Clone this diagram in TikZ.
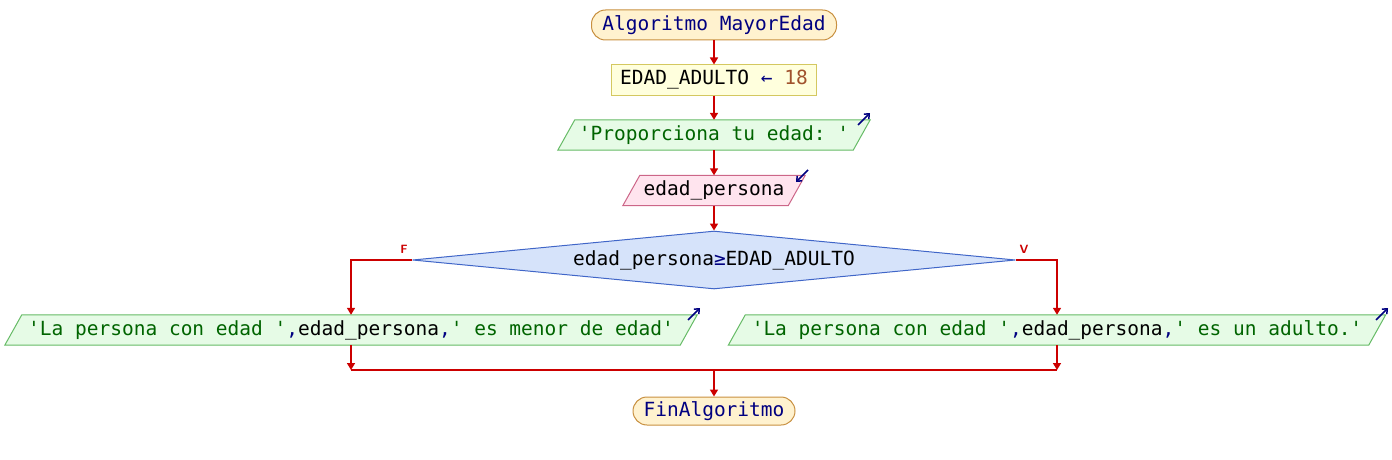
\documentclass[tikz,border=0pt]{standalone}
\usepackage{fontspec}
\setmonofont{DejaVu Sans Mono}
\usetikzlibrary{shapes.geometric,arrows.meta,backgrounds}
\definecolor{conn}{HTML}{CC0000}
\definecolor{navy}{HTML}{000080}
\definecolor{strg}{HTML}{006400}
\definecolor{numc}{HTML}{A0522D}
\definecolor{termfill}{HTML}{FFF2CF}
\definecolor{termdraw}{HTML}{C89040}
\definecolor{asgfill}{HTML}{FFFFDD}
\definecolor{asgdraw}{HTML}{D4C860}
\definecolor{outfill}{HTML}{E6FBE6}
\definecolor{outdraw}{HTML}{66BB66}
\definecolor{infill}{HTML}{FFE4EE}
\definecolor{indraw}{HTML}{CC6688}
\definecolor{decfill}{HTML}{D6E3FA}
\definecolor{decdraw}{HTML}{4066C8}
\tikzset{
  txt/.style={font=\ttfamily\fontsize{19.5}{23}\selectfont, inner sep=0pt, minimum height=30pt},
  term/.style={txt, draw=termdraw, fill=termfill, rounded corners=14pt, line width=1pt},
  assign/.style={txt, draw=asgdraw, fill=asgfill, line width=1pt},
  iobox/.style={txt},
  outpar/.style={draw=outdraw, fill=outfill, line width=1pt},
  inpar/.style={draw=indraw, fill=infill, line width=1pt},
  decision/.style={txt, shape=diamond, draw=decdraw, fill=decfill, line width=1pt, aspect=10},
  conn/.style={draw=conn, line width=1.6pt, -{Triangle[width=8pt,length=7pt]}},
  plain/.style={draw=conn, line width=1.6pt},
  lbl/.style={text=conn, font=\sffamily\bfseries\fontsize{12}{13}\selectfont, inner sep=0pt},
  icon/.style={draw=navy, line width=1.5pt, -{Straight Barb[length=4pt,width=7pt]}}
}
\newcommand{\parbg}[2]{%
  \begin{pgfonlayer}{background}
  \path[#2] ([xshift=8.5pt]#1.north west) -- ([xshift=8.5pt]#1.north east) -- ([xshift=-8.5pt]#1.south east) -- ([xshift=-8.5pt]#1.south west) -- cycle;
  \end{pgfonlayer}}
\begin{document}
\begin{tikzpicture}[x=1pt,y=-1pt]
\useasboundingbox (0,0) rectangle (1392,460);
\node[term, minimum width=245pt] (start) at (714,25) {\textcolor{navy}{Algoritmo MayorEdad}};
\node[assign, minimum width=205pt] (asg) at (714,80) {EDAD\_ADULTO \textcolor{navy}{←} \textcolor{numc}{18}};
\node[iobox, minimum width=295pt] (out1) at (714,135) {\textcolor{strg}{'Proporciona tu edad: '}};
\parbg{out1}{outpar}
\node[iobox, minimum width=165pt] (in1) at (714,190.5) {edad\_persona};
\parbg{in1}{inpar}
\node[decision, minimum width=603pt, minimum height=58pt] (dec) at (714,260) {edad\_persona\textcolor{navy}{≥}EDAD\_ADULTO};
\node[iobox, minimum width=675pt] (outF) at (351,330) {\textcolor{strg}{'La persona con edad '}\textcolor{navy}{,}edad\_persona\textcolor{navy}{,}\textcolor{strg}{' es menor de edad'}};
\parbg{outF}{outpar}
\node[iobox, minimum width=640pt] (outV) at (1057,330) {\textcolor{strg}{'La persona con edad '}\textcolor{navy}{,}edad\_persona\textcolor{navy}{,}\textcolor{strg}{' es un adulto.'}};
\parbg{outV}{outpar}
\node[term, minimum width=162pt, minimum height=28pt] (fin) at (714,411) {\textcolor{navy}{FinAlgoritmo}};
% labels
\node[lbl] (lf) at (404,249) {F};
\node[lbl] (lv) at (1024,249) {V};
% icons
\coordinate (i1a) at (858,125); \coordinate (i1b) at (870,113);
\draw[icon] (i1a) -- (i1b);
\coordinate (i2a) at (808,170); \coordinate (i2b) at (796,182);
\draw[icon] (i2a) -- (i2b);
\coordinate (i3a) at (688,320); \coordinate (i3b) at (700,308);
\draw[icon] (i3a) -- (i3b);
\coordinate (i4a) at (1376,320); \coordinate (i4b) at (1388,308);
\draw[icon] (i4a) -- (i4b);
% connectors
\draw[conn] (start.south) -- (asg.north);
\draw[conn] (asg.south) -- (out1.north);
\draw[conn] (out1.south) -- (in1.north);
\draw[conn] (in1.south) -- (dec.north);
\draw[conn] (dec.west) -| (outF.north);
\draw[conn] (dec.east) -| (outV.north);
\coordinate (jm) at (714,370);
\coordinate (jl) at (outF.south |- jm);
\coordinate (jr) at (outV.south |- jm);
\draw[conn] (outF.south) -- (jl);
\draw[conn] (outV.south) -- (jr);
\draw[plain] (jl) -- (jr);
\draw[conn] (jm) -- (fin.north);
\end{tikzpicture}
\end{document}
